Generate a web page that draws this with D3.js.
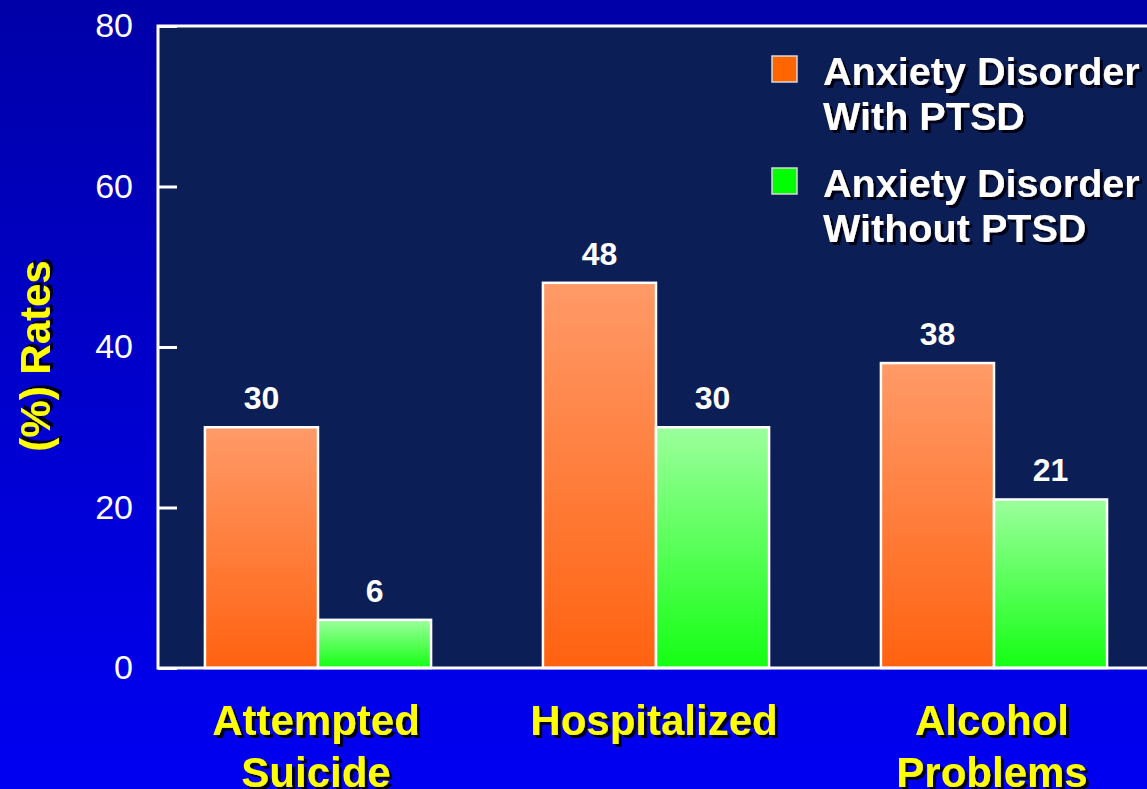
<!DOCTYPE html>
<html><head><meta charset="utf-8">
<script src="https://cdn.jsdelivr.net/npm/d3@7"></script>
<style>html,body{margin:0;padding:0;overflow:hidden;background:#0000c0}</style>
</head><body>
<svg id="c" width="1147" height="789"></svg>
<script>
const categories = [["Attempted","Suicide"],["Hospitalized"],["Alcohol","Problems"]];
const categoryKeys = ["Attempted Suicide","Hospitalized","Alcohol Problems"];
const seriesNames = [["Anxiety Disorder","With PTSD"],["Anxiety Disorder","Without PTSD"]];
const withPTSD = [30, 48, 38];
const withoutPTSD = [6, 30, 21];
const yTicks = [0, 20, 40, 60, 80];

const W = 1147, H = 789;
const svg = d3.select("#c");
const defs = svg.append("defs");
const bg = defs.append("linearGradient").attr("id","bg").attr("x1",0).attr("y1",0).attr("x2",0).attr("y2",1);
bg.append("stop").attr("offset","0%").attr("stop-color","#0000a8");
bg.append("stop").attr("offset","100%").attr("stop-color","#0000f2");
const go = defs.append("linearGradient").attr("id","gOr").attr("x1",0).attr("y1",0).attr("x2",0).attr("y2",1);
go.append("stop").attr("offset","0%").attr("stop-color","#ff9a68");
go.append("stop").attr("offset","100%").attr("stop-color","#ff6210");
const gg = defs.append("linearGradient").attr("id","gGr").attr("x1",0).attr("y1",0).attr("x2",0).attr("y2",1);
gg.append("stop").attr("offset","0%").attr("stop-color","#9cff9c");
gg.append("stop").attr("offset","100%").attr("stop-color","#14ff14");
const sh = defs.append("filter").attr("id","sh").attr("x","-20%").attr("y","-20%").attr("width","140%").attr("height","140%");
sh.append("feDropShadow").attr("dx",3).attr("dy",3).attr("stdDeviation",0.6).attr("flood-color","#000018").attr("flood-opacity",1);

svg.append("rect").attr("width",W).attr("height",H).attr("fill","url(#bg)");

const plotL = 158, plotT = 26, plotB = 668, plotR = 1160;
const y = d3.scaleLinear().domain([0,80]).range([plotB, plotT]);
const x0 = d3.scaleBand().domain(categoryKeys).range([149,1163]).paddingInner(0.331).paddingOuter(0.1655);
const series = ["with","without"];
const x1 = d3.scaleBand().domain(series).range([0, x0.bandwidth()]);
const fills = {with:"url(#gOr)", without:"url(#gGr)"};

svg.append("rect").attr("x",plotL).attr("y",plotT).attr("width",plotR-plotL).attr("height",plotB-plotT).attr("fill","#0b1e56");

const data = categoryKeys.map((k,i)=>({key:k, values:[{s:"with",v:withPTSD[i]},{s:"without",v:withoutPTSD[i]}]}));

const g = svg.append("g");
const grp = g.selectAll("g.grp").data(data).join("g").attr("class","grp")
  .attr("transform", d=>`translate(${x0(d.key)},0)`);
grp.selectAll("rect").data(d=>d.values).join("rect")
  .attr("x", d=>x1(d.s)).attr("width", x1.bandwidth())
  .attr("y", d=>y(d.v)).attr("height", d=>y(0)-y(d.v))
  .attr("fill", d=>fills[d.s]).attr("stroke","#ffffff").attr("stroke-width",2.5);
grp.selectAll("text").data(d=>d.values).join("text")
  .attr("x", d=>x1(d.s)+x1.bandwidth()/2).attr("y", d=>y(d.v)-18)
  .attr("text-anchor","middle").attr("fill","#fff")
  .style("font-family","'Liberation Sans',Arial,sans-serif").style("font-weight","bold").style("font-size","32px")
  .text(d=>d.v);

// axis
const yAxis = d3.axisLeft(y).tickValues(yTicks).tickSizeInner(-19).tickSizeOuter(0).tickPadding(25);
const ax = svg.append("g").attr("transform",`translate(${plotL},0)`).call(yAxis);
ax.select(".domain").remove();
ax.selectAll(".tick line").attr("stroke","#fff").attr("stroke-width",3);
ax.selectAll(".tick text").attr("fill","#fff").style("font-family","'Liberation Sans',Arial,sans-serif").style("font-size","34px").attr("dy","0.32em");

// borders
const border = d3.path();
border.moveTo(plotR, plotT); border.lineTo(plotL, plotT); border.lineTo(plotL, plotB); border.lineTo(plotR, plotB);
svg.append("path").attr("d", border.toString()).attr("fill","none").attr("stroke","#fff").attr("stroke-width",3);

function shadowText(sel, x, yv, lines, opts) {
  const t = sel.append("text").attr("x",x).attr("y",yv)
    .attr("text-anchor",opts.anchor||"middle").attr("fill",opts.fill)
    .attr("filter","url(#sh)")
    .attr("transform", opts.rotate ? `rotate(-90,${x},${yv})` : null)
    .style("font-family","'Liberation Sans',Arial,sans-serif").style("font-weight","bold").style("font-size",opts.size+"px");
  lines.forEach((ln,i)=>t.append("tspan").attr("x",x).attr("dy", i===0?0:opts.lh).text(ln));
}

// category labels
categoryKeys.forEach((k,i)=>{
  shadowText(svg, x0(k)+x0.bandwidth()/2 - 2, 735, categories[i], {fill:"#ffff00", size:42, lh:52});
});

// y title
shadowText(svg, 50, 356, ["(%) Rates"], {fill:"#ffff00", size:42, lh:0, rotate:true});

// legend
const legColors = ["#ff6600","#00ff00"];
const legY = [56, 168];
seriesNames.forEach((nm,i)=>{
  svg.append("rect").attr("x",772).attr("y",legY[i]).attr("width",25).attr("height",26)
    .attr("fill",legColors[i]).attr("stroke","#d8d8d8").attr("stroke-width",1.5);
  shadowText(svg, 823, legY[i]+29, nm, {fill:"#ffffff", size:39.6, lh:45, anchor:"start"});
});
</script>
</body></html>
